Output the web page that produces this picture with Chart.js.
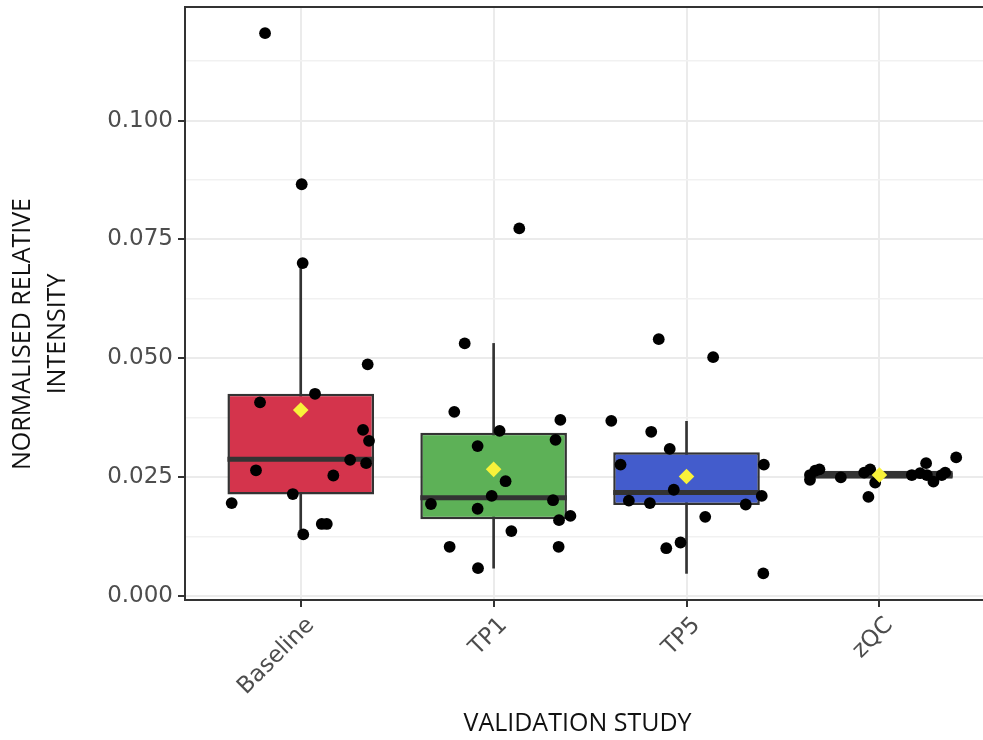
<!DOCTYPE html>
<html>
<head>
<meta charset="utf-8">
<script src="https://cdn.jsdelivr.net/npm/chart.js@4.4.1/dist/chart.umd.min.js"></script>
<style>
html,body{margin:0;padding:0;background:#fff;overflow:hidden;}
#wrap{width:983px;height:740px;position:relative;}
</style>
</head>
<body>
<div id="wrap"><canvas id="c"></canvas></div>
<script>
// ---------- data ----------
const categories = ['Baseline', 'TP1', 'TP5', 'zQC'];
const yTickValues = [0, 0.025, 0.05, 0.075, 0.1];
const yTickLabels = ['0.000', '0.025', '0.050', '0.075', '0.100'];
const yMinorTicks = [0.0125, 0.0375, 0.0625, 0.0875, 0.1125];

const q1Values      = [0.0213, 0.0161, 0.0191, 0.0246];
const q3Values      = [0.0425, 0.0343, 0.0302, 0.0263];
const medianValues  = [0.0287, 0.0206, 0.0217, 0.0254];
const whiskerLow    = [0.0132, 0.0058, 0.0047, 0.0238];
const whiskerHigh   = [0.0700, 0.0531, 0.0367, 0.0266];
const meanValues    = [0.0391, 0.0266, 0.0251, 0.0254];

const baselineValues = [0.1184, 0.0866, 0.0700, 0.0487, 0.0425, 0.0407, 0.0349, 0.0326, 0.0286, 0.0279, 0.0264, 0.0253, 0.0214, 0.0195, 0.0151, 0.0151, 0.0129];
const baselineJitter = [-0.185, 0.005, 0.010, 0.347, 0.074, -0.211, 0.323, 0.354, 0.256, 0.339, -0.232, 0.169, -0.041, -0.358, 0.109, 0.135, 0.013];

const tp1Values = [0.0773, 0.0531, 0.0387, 0.0370, 0.0347, 0.0328, 0.0315, 0.0241, 0.0210, 0.0201, 0.0193, 0.0183, 0.0168, 0.0159, 0.0136, 0.0103, 0.0103, 0.0058];
const tp1Jitter = [0.133, -0.150, -0.204, 0.346, 0.031, 0.321, -0.083, 0.062, -0.010, 0.308, -0.325, -0.083, 0.398, 0.339, 0.092, -0.228, 0.337, -0.081];

const tp5Values = [0.0540, 0.0502, 0.0368, 0.0345, 0.0309, 0.0276, 0.0276, 0.0223, 0.0210, 0.0200, 0.0195, 0.0192, 0.0166, 0.0112, 0.0100, 0.0047];
const tp5Jitter = [-0.144, 0.138, -0.390, -0.183, -0.087, -0.342, 0.401, -0.066, 0.390, -0.299, -0.190, 0.307, 0.097, -0.031, -0.105, 0.398];

const zqcValues = [0.0254, 0.0263, 0.0266, 0.0244, 0.0249, 0.0259, 0.0266, 0.0238, 0.0208, 0.0254, 0.0258, 0.0279, 0.0254, 0.0240, 0.0254, 0.0259, 0.0291];
const zqcJitter = [-0.360, -0.333, -0.311, -0.360, -0.200, -0.079, -0.048, -0.022, -0.057, 0.168, 0.211, 0.242, 0.246, 0.280, 0.323, 0.341, 0.398];

const groupValues = [baselineValues, tp1Values, tp5Values, zqcValues];
const groupJitter = [baselineJitter, tp1Jitter, tp5Jitter, zqcJitter];

const xTitle = 'VALIDATION STUDY';
const yTitleLines = ['NORMALISED RELATIVE', 'INTENSITY'];

// ---------- styles ----------
const boxColors = ['#D4344C', '#5DB157', '#435CCC', '#3A3A3A'];
const darkLine = '#333333';
const boxWidth = 0.76;
const tickFont = { family: 'DejaVu Sans', size: 23 };
const tickColor = '#4D4D4D';

const isMajor = v => yTickValues.some(t => Math.abs(t - v) < 1e-9);

const datasets = [];
datasets.push({
  type: 'bar', label: 'whiskers', order: 5, grouped: false,
  data: categories.map((c, i) => ({ x: i, y: [whiskerLow[i], whiskerHigh[i]] })),
  backgroundColor: darkLine, borderWidth: 0, barThickness: 2
});
datasets.push({
  type: 'bar', label: 'boxes', order: 4, grouped: false,
  data: categories.map((c, i) => ({ x: i, y: [q1Values[i], q3Values[i]] })),
  backgroundColor: boxColors, borderColor: darkLine, borderWidth: 2.5, borderSkipped: false,
  categoryPercentage: 1, barPercentage: boxWidth
});
datasets.push({
  type: 'scatter', label: 'medians', order: 3,
  data: categories.map((c, i) => ({ x: i, y: medianValues[i] })),
  pointStyle: 'line', pointBorderColor: darkLine, pointBorderWidth: 5,
  pointRadius: ctx => {
    const xs = ctx.chart.scales.x;
    return Math.abs(xs.getPixelForValue(boxWidth / 2) - xs.getPixelForValue(0));
  }
});
groupValues.forEach((vals, g) => {
  datasets.push({
    type: 'scatter', label: categories[g] + ' points', order: 2,
    data: vals.map((v, k) => ({ x: g + groupJitter[g][k], y: v })),
    pointStyle: 'circle', pointRadius: 5.9, pointBackgroundColor: '#000', pointBorderWidth: 0
  });
});
datasets.push({
  type: 'scatter', label: 'means', order: 1,
  data: categories.map((c, i) => ({ x: i, y: meanValues[i] })),
  pointStyle: 'rectRot', pointRadius: 7.8, pointBackgroundColor: '#F8F23A', pointBorderWidth: 0
});

const frame = {
  id: 'frame',
  afterDraw(chart) {
    const { ctx, chartArea } = chart;
    ctx.save();
    // top edge of the panel border
    ctx.strokeStyle = darkLine;
    ctx.lineWidth = 2;
    ctx.beginPath();
    ctx.moveTo(chartArea.left, chartArea.top);
    ctx.lineTo(chartArea.right, chartArea.top);
    ctx.stroke();
    // axis titles
    ctx.fillStyle = '#111';
    ctx.font = '25px "Open Sans"';
    ctx.textAlign = 'center';
    ctx.textBaseline = 'middle';
    ctx.fillText(xTitle, 577.5, 724);
    ctx.translate(0, 334);
    ctx.rotate(-Math.PI / 2);
    ctx.fillText(yTitleLines[0], 0, 23);
    ctx.fillText(yTitleLines[1], 0, 57.5);
    ctx.restore();
  }
};

new Chart(document.getElementById('c'), {
  type: 'scatter',
  data: { datasets },
  plugins: [frame],
  options: {
    responsive: true, maintainAspectRatio: false, animation: false, events: [],
    layout: { autoPadding: false, padding: { top: 7, right: 0, left: 0, bottom: 0 } },
    plugins: { legend: { display: false }, tooltip: { enabled: false }, title: { display: false } },
    scales: {
      x: {
        type: 'linear', min: -0.6, max: 3.537, offset: false,
        afterBuildTicks: a => { a.ticks = categories.map((c, i) => ({ value: i })); },
        afterFit: a => { a.height = 140; a.paddingLeft = 0; a.paddingRight = 0; },
        ticks: { callback: v => categories[v], font: tickFont, color: tickColor, minRotation: 45, maxRotation: 45, padding: 5, labelOffset: 10, autoSkip: false },
        grid: { offset: false, color: '#EBEBEB', lineWidth: 2, tickLength: 7, tickColor: darkLine, tickWidth: 2 },
        border: { display: true, color: darkLine, width: 2 }
      },
      y: {
        type: 'linear', min: -0.0009, max: 0.1239,
        afterBuildTicks: a => { a.ticks = yTickValues.concat(yMinorTicks).sort((p, q) => p - q).map(v => ({ value: v })); },
        afterFit: a => { a.width = 185; a.paddingTop = 0; a.paddingBottom = 0; },
        ticks: {
          callback: v => { const i = yTickValues.findIndex(t => Math.abs(t - v) < 1e-9); return i >= 0 ? yTickLabels[i] : ''; },
          font: tickFont, color: tickColor, padding: 5, autoSkip: false
        },
        grid: {
          offset: false,
          color: c => isMajor(c.tick.value) ? '#EBEBEB' : '#F1F1F1',
          lineWidth: c => isMajor(c.tick.value) ? 2 : 1.5,
          tickColor: c => isMajor(c.tick.value) ? darkLine : 'rgba(0,0,0,0)',
          tickLength: 7, tickWidth: 2
        },
        border: { display: true, color: darkLine, width: 2 }
      }
    }
  }
});
</script>
</body>
</html>
